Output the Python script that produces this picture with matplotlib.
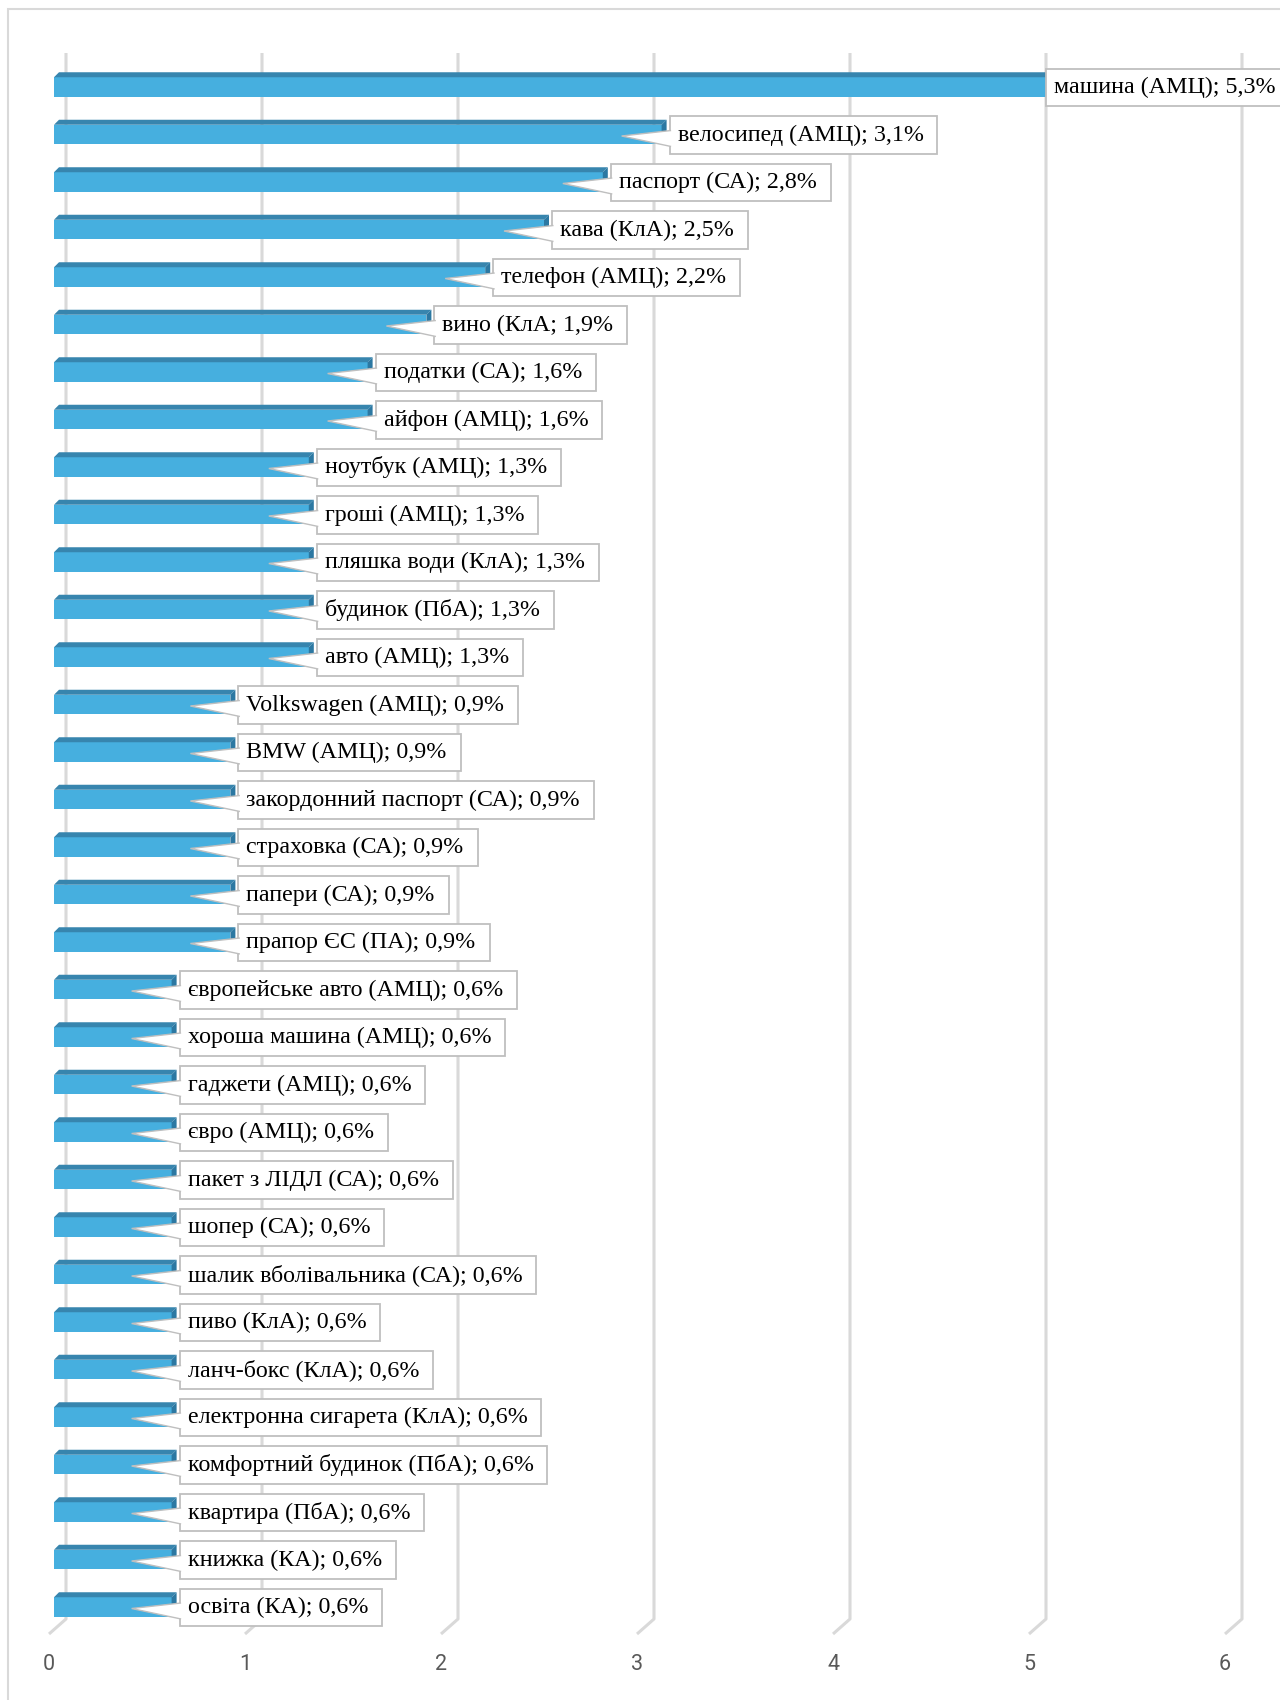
import matplotlib
matplotlib.use("Agg")
import matplotlib.pyplot as plt
from matplotlib.patches import Polygon, Rectangle

# --- data ---
labels = ["машина (АМЦ)", "велосипед (АМЦ)", "паспорт (СА)", "кава (КлА)",
          "телефон (АМЦ)", "вино (КлА", "податки (СА)", "айфон (АМЦ)",
          "ноутбук (АМЦ)", "гроші (АМЦ)", "пляшка води (КлА)", "будинок (ПбА)",
          "авто (АМЦ)", "Volkswagen (АМЦ)", "BMW (АМЦ)",
          "закордонний паспорт (СА)", "страховка (СА)", "папери (СА)",
          "прапор ЄС (ПА)", "європейське авто (АМЦ)", "хороша машина (АМЦ)",
          "гаджети (АМЦ)", "євро (АМЦ)", "пакет з ЛІДЛ (СА)", "шопер (СА)",
          "шалик вболівальника (СА)", "пиво (КлА)", "ланч-бокс (КлА)",
          "електронна сигарета (КлА)", "комфортний будинок (ПбА)",
          "квартира (ПбА)", "книжка (КА)", "освіта (КА)"]
values = [5.3, 3.1, 2.8, 2.5, 2.2, 1.9, 1.6, 1.6,
          1.3, 1.3, 1.3, 1.3, 1.3,
          0.9, 0.9, 0.9, 0.9, 0.9, 0.9,
          0.6, 0.6, 0.6, 0.6, 0.6, 0.6, 0.6, 0.6, 0.6, 0.6, 0.6, 0.6, 0.6, 0.6]
ticks = [0, 1, 2, 3, 4, 5, 6]

# --- colours ---
C_FRONT = "#46afdf"
C_TOP = "#3785ae"
C_SIDE = "#2c78a2"
C_GRID = "#d9d9d9"
C_BOX = "#bfbfbf"

# pixel scale of the plot (1 unit = 196 px, 1 row = 47.5 px)
UX = 196.0
UY = 47.5
def dx(p):
    return p / UX
def dy(p):
    return p / UY

W, H = 1280, 1700
fig = plt.figure(figsize=(W / 100, H / 100), dpi=100)
x0, x1 = -0.25, 6.25
y_top, y_bot = -1.0, 33.4
left_px = 54 + x0 * UX
right_px = 54 + x1 * UX
top_px = 87 + y_top * UY
bot_px = 87 + y_bot * UY
ax = fig.add_axes([left_px / W, 1 - bot_px / H,
                   (right_px - left_px) / W, (bot_px - top_px) / H])
ax.set_xlim(x0, x1)
ax.set_ylim(y_bot, y_top)
ax.axis("off")

# outer frame
fig.add_artist(Rectangle((8 / W, -0.1), 1.2, 1.1 - 9 / H, transform=fig.transFigure,
                         fill=False, ec="#d9d9d9", lw=1.5))

# --- back wall gridlines with floor ---
g_top = dy(53 - 87)
g_bot = dy(1619 - 87)
g_floor = dy(1634 - 87)
for t in ticks:
    xg = t + dx(12)
    ax.plot([xg, xg, xg - dx(17)], [g_top, g_bot, g_floor], color=C_GRID,
            lw=2.2, solid_capstyle="butt", zorder=1, clip_on=False)
    ax.text(t + dx(-5), dy(1665 - 87), str(t), ha="center", va="center",
            fontsize=15.5, family="Roboto", color="#595959")

# --- 3D bars ---
ypos = list(range(len(values)))
bh = dy(19.5)
ax.barh(ypos, values, height=bh, color=C_FRONT, zorder=3)
d = 5
for y, v in zip(ypos, values):
    t = y - bh / 2
    b = y + bh / 2
    ax.add_patch(Polygon([(0, t), (dx(d), t - dy(d)), (v + dx(d), t - dy(d)), (v, t)],
                         closed=True, fc=C_TOP, ec="none", zorder=3))
    ax.add_patch(Polygon([(v, t), (v + dx(d), t - dy(d)), (v + dx(d), b - dy(d)), (v, b)],
                         closed=True, fc=C_SIDE, ec="none", zorder=3))

# --- callout labels ---
fs = 17.3
pad = 0.33
pad_px = pad * fs * 100 / 72
vmax = max(values)
for y, v, lab in zip(ypos, values, labels):
    txt = f"{lab}; {str(v).replace('.', ',')}%\u00a0"
    if v == vmax:
        box_left = v + dx(-47)
    else:
        box_left = v + dx(8)
        wedge = [(box_left + dx(1.5), y + dy(-4)),
                 (v + dx(-40), y + dy(1.5)),
                 (box_left + dx(1.5), y + dy(12))]
        ax.add_patch(Polygon(wedge, closed=False, fc="white", ec=C_BOX,
                             lw=1.0, zorder=6, joinstyle="miter"))
    ax.text(box_left + dx(pad_px), y + dy(0.5), txt, ha="left", va="center",
            fontsize=fs, family="Liberation Serif", color="black", zorder=5,
            bbox=dict(boxstyle=f"square,pad={pad}", fc="white", ec=C_BOX, lw=1.3),
            clip_on=False)

fig.savefig("out.png", dpi=100)
